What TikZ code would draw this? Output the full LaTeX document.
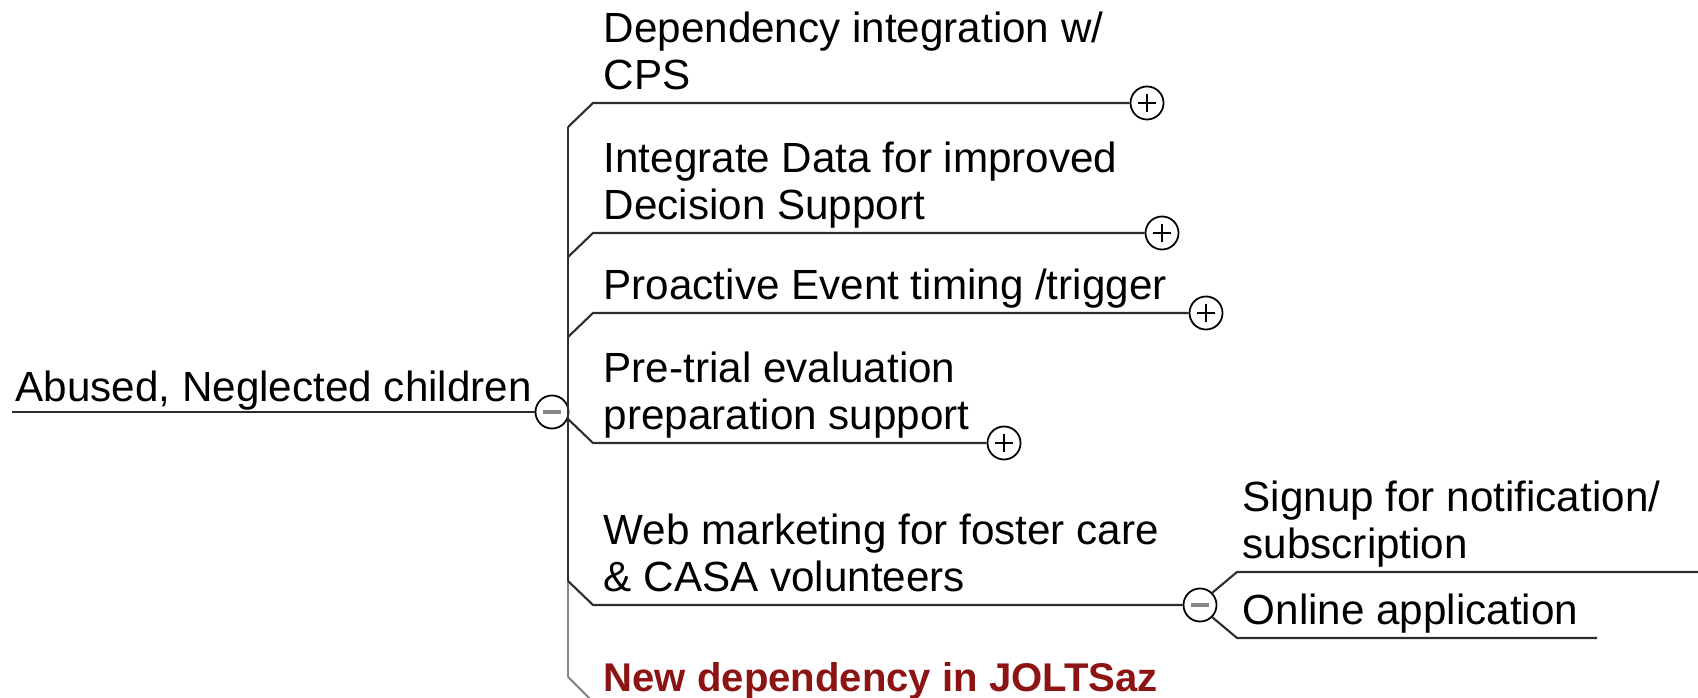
\documentclass[tikz,border=0pt]{standalone}
\usepackage{fontspec}
\setmainfont{Liberation Sans}
\usepackage{xcolor}
\usepackage{tikz}
\definecolor{mapdark}{RGB}{45,45,45}
\definecolor{mapgray}{RGB}{135,135,135}
\definecolor{mapred}{RGB}{140,20,20}
\tikzset{
  topic/.style={anchor=south west, inner sep=0pt, text depth=0pt, align=left,
    font=\fontsize{12}{13.2}\selectfont},
  knob/.style={circle, draw=black, fill=white, line width=0.5pt,
    minimum size=0.33cm, inner sep=0pt},
  plusknob/.style={knob, path picture={
    \draw[line width=0.6pt] ([xshift=-0.09cm]path picture bounding box.center)
      -- ([xshift=0.09cm]path picture bounding box.center);
    \draw[line width=0.6pt] ([yshift=-0.09cm]path picture bounding box.center)
      -- ([yshift=0.09cm]path picture bounding box.center);}},
  minusknob/.style={knob, path picture={
    \draw[mapgray, line width=0.9pt] ([xshift=-0.09cm]path picture bounding box.center)
      -- ([xshift=0.09cm]path picture bounding box.center);}},
  twig/.style={draw=mapdark, line width=0.6pt}
}

\begin{document}
\begin{tikzpicture}[x=0.01cm, y=-0.01cm]
\useasboundingbox (0,0) rectangle (1698,698);

% Root topic
\coordinate (rootstart) at (12,412);
\node[minusknob] (rootknob) at (552,412) {};
\node[topic] (root) at (15,402) {Abused, Neglected children};
\draw[twig] (rootstart) -- (rootknob.west);

% Trunk
\coordinate (trunktop) at (568,127);
\coordinate (trunkmid) at (568,581);
\coordinate (trunkbot) at (568,677);
\draw[twig] (trunktop) -- (trunkmid);
\draw[twig, draw=mapgray] (trunkmid) -- (trunkbot);

% Dependency integration
\coordinate (depbend) at (593,103);
\node[plusknob] (depknob) at (1147,103) {};
\draw[twig] (trunktop) -- (depbend) -- (depknob.west);
\node[topic] (dep) at (603,90) {Dependency integration w/\\CPS};

% Integrate data
\coordinate (datafork) at (568,257);
\coordinate (databend) at (593,233);
\node[plusknob] (dataknob) at (1162,233) {};
\draw[twig] (datafork) -- (databend) -- (dataknob.west);
\node[topic] (data) at (603,220) {Integrate Data for improved\\Decision Support};

% Proactive event
\coordinate (eventfork) at (568,337);
\coordinate (eventbend) at (593,313);
\node[plusknob] (eventknob) at (1206,313) {};
\draw[twig] (eventfork) -- (eventbend) -- (eventknob.west);
\node[topic] (event) at (603,300) {Proactive Event timing /trigger};

% Pre-trial
\coordinate (trialfork) at (568,419);
\coordinate (trialbend) at (593,443);
\node[plusknob] (trialknob) at (1004,443) {};
\draw[twig] (trialfork) -- (trialbend) -- (trialknob.west);
\node[topic] (trial) at (603,430) {Pre-trial evaluation\\preparation support};

% Web marketing
\coordinate (webbend) at (593,605);
\node[minusknob] (webknob) at (1200,605) {};
\draw[twig] (trunkmid) -- (webbend) -- (webknob.west);
\node[topic] (web) at (603,592) {Web marketing for foster care\\\& CASA volunteers};

% Web marketing subtopics
\coordinate (signbend) at (1237,572);
\coordinate (signend) at (1698,572);
\draw[twig] (webknob.north east) -- (signbend) -- (signend);
\node[topic] (sign) at (1242,559) {Signup for notification/\\subscription};
\coordinate (applybend) at (1237,638);
\coordinate (applyend) at (1597,638);
\draw[twig] (webknob.south east) -- (applybend) -- (applyend);
\node[topic] (apply) at (1242,625) {Online application};

% New dependency
\coordinate (newbend) at (593,702);
\draw[twig, draw=mapgray] (trunkbot) -- (newbend);
\node[topic, text=mapred, font=\fontsize{11.4}{13.2}\selectfont\bfseries] (new) at (603,692) {New dependency in JOLTSaz};
\end{tikzpicture}
\end{document}
